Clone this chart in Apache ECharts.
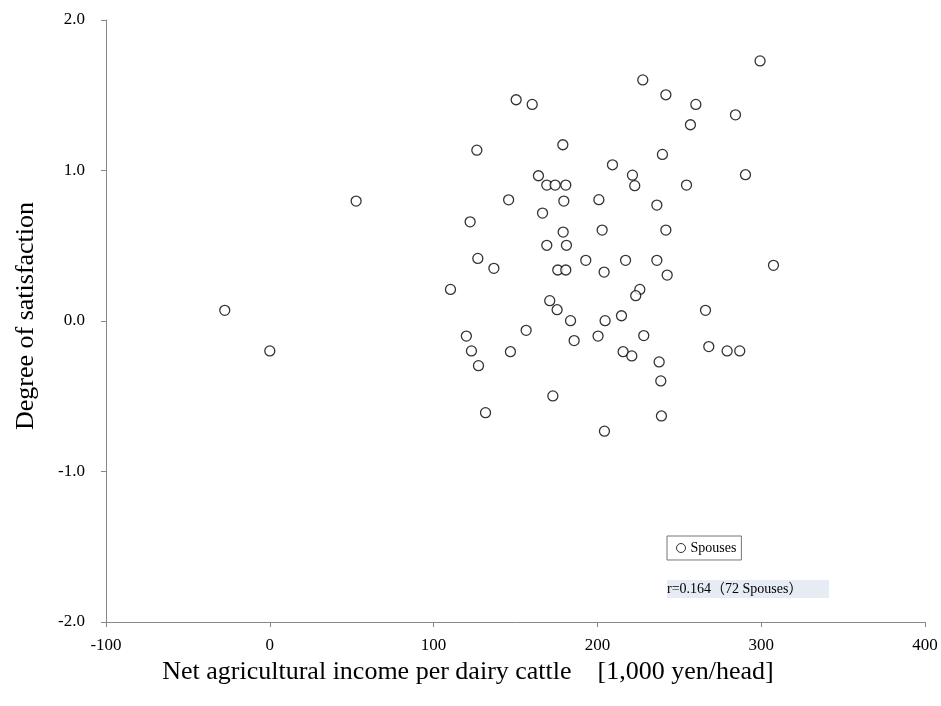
<!DOCTYPE html>
<html>
<head>
<meta charset="utf-8">
<script src="https://cdn.jsdelivr.net/npm/echarts@6/dist/echarts.min.js"></script>
<style>html,body{margin:0;padding:0;background:#fff;}#c{width:941px;height:706px;}</style>
</head>
<body>
<div id="c"></div>
<script>
var seriesName = 'Spouses';
var incomeX = [-27.5, 0, 52.7, 110.3, 120, 122.3, 123.1, 126.4, 127, 127.4, 131.7, 136.8, 145.8, 146.9, 150.4,
  160.2, 227.7, 241.8, 260.1, 284.3, 256.8, 299.3, 178.9, 239.7, 209.2, 164, 221.4, 290.4, 169.1, 174.2,
  180.7, 222.8, 254.4, 179.5, 200.9, 236.3, 166.5, 179.1, 202.9, 241.8, 169.1, 181.1, 192.9, 217.2, 236.3,
  307.5, 175.8, 180.7, 204.1, 242.6, 225.9, 223.4, 170.9, 175.4, 266, 183.6, 204.7, 214.7, 156.5,
  185.8, 200.4, 228.3, 215.7, 221, 268, 279.2, 286.9, 237.7, 238.7, 172.8, 239.1, 204.3];
var satisfactionY = [0.071, -0.199, 0.797, 0.21, -0.10, 0.659, -0.199, 1.135, 0.416, -0.297, -0.609, 0.35, 0.805, -0.204, 1.47,
  1.439, 1.602, 1.503, 1.439, 1.370, 1.304, 1.728, 1.171, 1.107, 1.038, 0.965, 0.969, 0.972, 0.903, 0.903,
  0.903, 0.899, 0.903, 0.797, 0.806, 0.770, 0.717, 0.591, 0.604, 0.604, 0.503, 0.503, 0.403, 0.403, 0.403,
  0.370, 0.339, 0.339, 0.325, 0.305, 0.210, 0.168, 0.135, 0.075, 0.071, 0.002, 0.002, 0.035, -0.062,
  -0.13, -0.1, -0.097, -0.204, -0.232, -0.170, -0.199, -0.199, -0.272, -0.398, -0.498, -0.631, -0.732];
var xTicks = [-100, 0, 100, 200, 300, 400];
var yTicks = [-2.0, -1.0, 0.0, 1.0, 2.0];
var annotation = 'r=0.164（72 Spouses）';
var xTitle = 'Net agricultural income per dairy cattle\u3000[1,000 yen/head]';
var yTitle = 'Degree of satisfaction';

var points = incomeX.map(function (x, i) { return [x, satisfactionY[i]]; });
var serif = '"Liberation Serif", "Times New Roman", "Noto Sans CJK JP", serif';

var chart = echarts.init(document.getElementById('c'), null, {renderer: 'canvas'});
chart.setOption({
  animation: false,
  backgroundColor: '#fff',
  grid: {left: 106, right: 16, top: 20, bottom: 84, containLabel: false},
  xAxis: {
    type: 'value', min: xTicks[0], max: xTicks[xTicks.length - 1], interval: 100,
    name: xTitle, nameLocation: 'middle', nameGap: 32,
    nameTextStyle: {fontFamily: serif, fontSize: 26, color: '#000', padding: [0, 95, 0, 0]},
    axisLine: {onZero: false, lineStyle: {color: '#888', width: 1}},
    axisTick: {show: true, length: 5, lineStyle: {color: '#888'}},
    axisLabel: {fontFamily: serif, fontSize: 17, color: '#000', margin: 15},
    splitLine: {show: false}
  },
  yAxis: {
    type: 'value', min: yTicks[0], max: yTicks[yTicks.length - 1], interval: 1,
    name: yTitle, nameLocation: 'middle', nameGap: 67, nameRotate: 90,
    nameTextStyle: {fontFamily: serif, fontSize: 26, color: '#000', padding: [0, 0, 0, 10]},
    axisLine: {show: true, onZero: false, lineStyle: {color: '#888', width: 1}},
    axisTick: {show: true, length: 5, lineStyle: {color: '#888'}},
    axisLabel: {fontFamily: serif, fontSize: 17, color: '#000', margin: 21,
      formatter: function (v) { return v.toFixed(1); }},
    splitLine: {show: false}
  },
  legend: {
    data: [seriesName], left: 667, top: 536, orient: 'horizontal',
    icon: 'circle', itemWidth: 9, itemHeight: 9, itemGap: 2,
    borderColor: '#777', borderWidth: 1, padding: [5, 5, 5, 9],
    textStyle: {fontFamily: serif, fontSize: 14, color: '#000', padding: [0, 0, 0, 0]},
    itemStyle: {color: '#fff', borderColor: '#000', borderWidth: 1}
  },
  graphic: [{
    type: 'text', left: 667, top: 580,
    style: {text: annotation, fontFamily: serif, fontSize: 14, fill: '#000',
      backgroundColor: '#e6ebf4', padding: [2, 0, 2, 0], width: 162}
  }],
  series: [{
    name: seriesName, type: 'scatter', data: points,
    symbol: 'circle', symbolSize: 10,
    itemStyle: {color: '#fff', borderColor: '#000', borderWidth: 1.3}
  }]
});
</script>
</body>
</html>
